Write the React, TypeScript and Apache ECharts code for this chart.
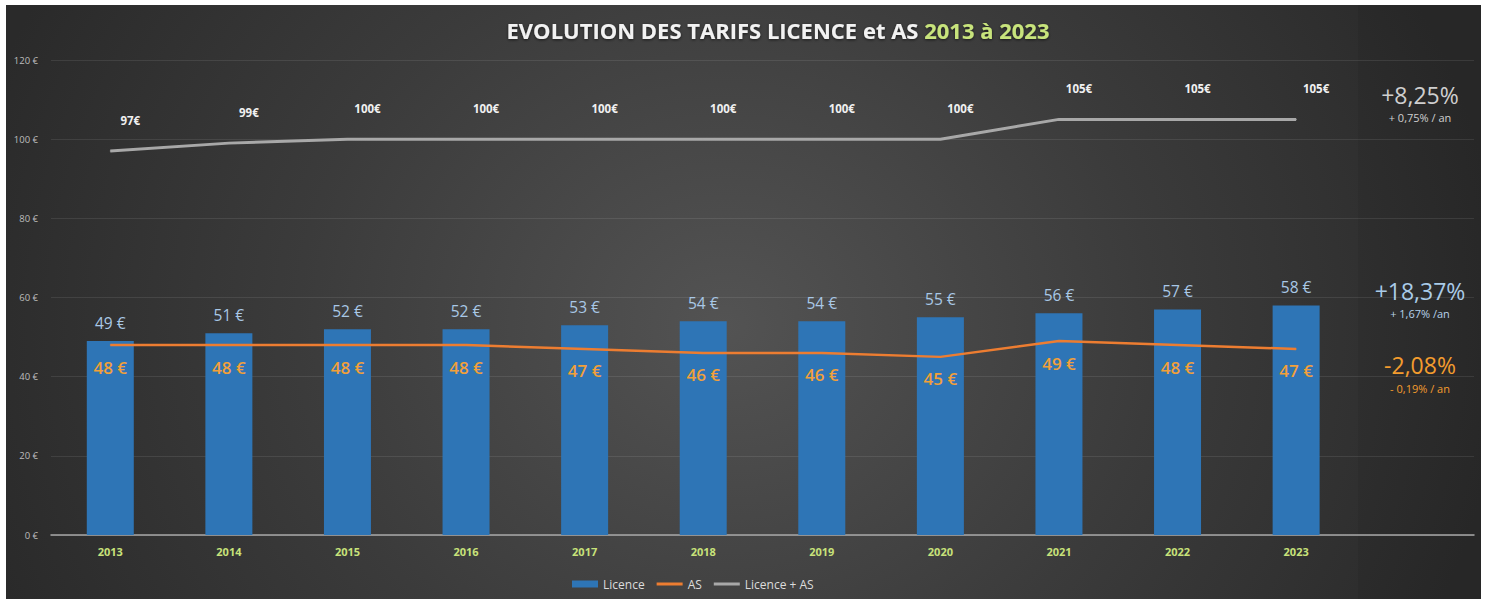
import React, { useEffect, useRef } from "react";
import * as echarts from "echarts";

const years = ["2013", "2014", "2015", "2016", "2017", "2018", "2019", "2020", "2021", "2022", "2023"];
const licence = [49, 51, 52, 52, 53, 54, 54, 55, 56, 57, 58];
const as = [48, 48, 48, 48, 47, 46, 46, 45, 49, 48, 47];
const total = [97, 99, 100, 100, 100, 100, 100, 100, 105, 105, 105];
const yTicks = { min: 0, max: 120, interval: 20 };

const FONT = "'Open Sans', 'Noto Sans', sans-serif";
const LINE_ICON = "path://M0,0 L26,0 L26,3 L0,3 Z";

export default function App() {
  const ref = useRef<HTMLDivElement>(null);
  useEffect(() => {
    if (!ref.current) return;
    const chart = echarts.init(ref.current, undefined, { renderer: "svg" });
    const shadow = { textShadowColor: "rgba(0,0,0,0.6)", textShadowBlur: 3, textShadowOffsetY: 1 };
    chart.setOption({
      animation: false,
      backgroundColor: "transparent",
      textStyle: { fontFamily: FONT },
      title: {
        text: "{w|EVOLUTION DES TARIFS LICENCE et AS }{g|2013 à 2023}",
        left: 773,
        top: 14,
        textAlign: "center",
        textStyle: {
          rich: {
            w: { color: "#f2f2f2", fontSize: 22, fontWeight: "bold", fontFamily: FONT, ...shadow },
            g: { color: "#c8e47c", fontSize: 22, fontWeight: "bold", fontFamily: FONT, ...shadow },
          },
        },
      },
      legend: {
        left: 567,
        top: 573,
        itemWidth: 26,
        itemHeight: 7,
        itemGap: 12,
        textStyle: { color: "#dcdcdc", fontSize: 12, fontFamily: FONT },
        data: [
          { name: "Licence", icon: "rect" },
          { name: "AS", icon: LINE_ICON },
          { name: "Licence + AS", icon: LINE_ICON },
        ],
      },
      grid: { left: 51, right: 13, top: 60, bottom: 64 },
      xAxis: {
        type: "category",
        data: [...years, ""],
        axisLine: { lineStyle: { color: "#a8a8a8", width: 1.5 } },
        axisTick: { show: false },
        axisLabel: { color: "#c8e27a", fontWeight: "bold", fontSize: 11, margin: 11, fontFamily: FONT },
      },
      yAxis: {
        type: "value",
        min: yTicks.min,
        max: yTicks.max,
        interval: yTicks.interval,
        axisLabel: { formatter: "{value} €", color: "#bdbdbd", fontSize: 9.5, margin: 13, fontFamily: FONT },
        splitLine: { lineStyle: { color: "rgba(255,255,255,0.09)", width: 1 } },
        axisLine: { show: false },
        axisTick: { show: false },
      },
      series: [
        {
          name: "Licence",
          type: "bar",
          data: licence,
          barWidth: 47,
          itemStyle: { color: "#2e75b6" },
          label: {
            show: true,
            position: "top",
            distance: 10,
            formatter: "{c} €",
            color: "#a9c8e6",
            fontSize: 15.5,
            fontFamily: FONT,
          },
          z: 2,
        },
        {
          name: "AS",
          type: "line",
          data: as,
          symbol: "circle",
          symbolSize: 1,
          lineStyle: { color: "#ed7d31", width: 2.5 },
          itemStyle: { color: "#ed7d31" },
          label: {
            show: true,
            position: "bottom",
            distance: 13,
            formatter: "{c} €",
            color: "#f2a03a",
            fontSize: 17,
            fontWeight: 600,
            fontFamily: FONT,
          },
          z: 3,
        },
        {
          name: "Licence + AS",
          type: "line",
          data: total,
          symbol: "circle",
          symbolSize: 1,
          lineStyle: { color: "#a8a8a8", width: 3 },
          itemStyle: { color: "#a8a8a8" },
          label: {
            show: true,
            position: "top",
            distance: 24,
            offset: [20, 0],
            formatter: "{c}€",
            color: "#f0f0f0",
            fontSize: 11.5,
            fontWeight: "bold",
            fontFamily: FONT,
          },
          z: 3,
        },
      ],
      graphic: [
        { type: "rect", silent: true, z: -1, shape: { x: 1358, y: 5, width: 123, height: 594 }, style: { fill: "rgba(0,0,0,0.06)" } },
        { type: "text", x: 1420, y: 95, style: { text: "+8,25%", fill: "#cfcfcf", fontSize: 23, fontFamily: FONT, align: "center", verticalAlign: "middle" } },
        { type: "text", x: 1420, y: 117, style: { text: "+ 0,75% / an", fill: "#cfcfcf", fontSize: 11, fontFamily: FONT, align: "center", verticalAlign: "middle" } },
        { type: "text", x: 1420, y: 291, style: { text: "+18,37%", fill: "#a9cbe8", fontSize: 23, fontFamily: FONT, align: "center", verticalAlign: "middle" } },
        { type: "text", x: 1420, y: 313, style: { text: "+ 1,67% /an", fill: "#b8d2ea", fontSize: 11, fontFamily: FONT, align: "center", verticalAlign: "middle" } },
        { type: "text", x: 1420, y: 365, style: { text: "-2,08%", fill: "#f39c2e", fontSize: 23, fontFamily: FONT, align: "center", verticalAlign: "middle" } },
        { type: "text", x: 1420, y: 388, style: { text: "- 0,19% / an", fill: "#f39c2e", fontSize: 11, fontFamily: FONT, align: "center", verticalAlign: "middle" } },
      ],
    });
    return () => chart.dispose();
  }, []);

  return (
    <div style={{ position: "fixed", left: 0, top: 0, width: 1487, height: 599, background: "#fff", overflow: "hidden" }}>
      <div
        style={{
          position: "absolute",
          left: 6,
          top: 5,
          width: 1475,
          height: 594,
          background: "radial-gradient(ellipse 780px 700px at 720px 320px, #535353 0%, #3b3b3b 55%, #2a2a2a 100%)",
        }}
      />
      <div ref={ref} style={{ position: "absolute", left: 0, top: 0, width: 1487, height: 599 }} />
    </div>
  );
}
